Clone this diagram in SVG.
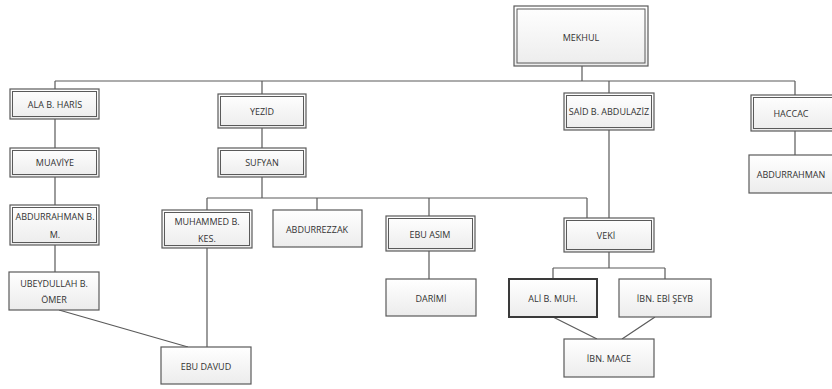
<svg xmlns="http://www.w3.org/2000/svg" width="832" height="389" viewBox="0 0 832 389">
<defs>
<linearGradient id="g" x1="0" y1="0" x2="0" y2="1">
<stop offset="0" stop-color="#ffffff"/>
<stop offset="1" stop-color="#ececec"/>
</linearGradient>
<style>
.b{fill:url(#g);stroke:#5a5a5a;stroke-width:1.2}
.i{fill:none;stroke:#5a5a5a;stroke-width:1}
.k{fill:url(#g);stroke:#3a3a3a;stroke-width:2}
.t{font-family:"Open Sans","Liberation Sans",sans-serif;font-size:9px;fill:#333;text-anchor:middle;dominant-baseline:central}
.c{stroke:#5a5a5a;stroke-width:1.2;fill:none}
</style>
</defs>
<rect width="832" height="389" fill="#fff"/>
<g id="connectors">
<path class="c" d="M582,66V81M55,81H795M55,81V89M262,81V94M609,81V93M795,81V95"/>
<path class="c" d="M55,119V148M55,177V205M55,245V272"/>
<path class="c" d="M262,128V148M262,177V198M207,198H587M207,198V210M317,198V210M429,198V216M587,198V218"/>
<path class="c" d="M609,130V218M795,131V155M429,251V279"/>
<path class="c" d="M609,252V268M553,268H665M553,268V279M665,268V279"/>
<path class="c" d="M553,317L597,339M655,317L622,339"/>
<path class="c" d="M59,310L188,347M207,248V347"/>
</g>
<g id="mekhul"><rect class="b" x="514" y="6" width="134" height="60"/><rect class="i" x="517" y="9" width="128" height="54"/><text class="t" x="581" y="37">MEKHUL</text></g>
<g id="ala"><rect class="b" x="10" y="89" width="89" height="30"/><rect class="i" x="12.5" y="91.5" width="84" height="25"/><text class="t" x="55" y="104">ALA B. HARİS</text></g>
<g id="yezid"><rect class="b" x="218" y="94" width="88" height="34"/><rect class="i" x="220.5" y="96.5" width="83" height="29"/><text class="t" x="262" y="111">YEZİD</text></g>
<g id="said"><rect class="b" x="564" y="93" width="90" height="37"/><rect class="i" x="566.5" y="95.5" width="85" height="32"/><text class="t" x="609" y="111">SAİD B. ABDULAZİZ</text></g>
<g id="haccac"><rect class="b" x="751" y="95" width="90" height="36"/><rect class="i" x="753.5" y="97.5" width="85" height="31"/><text class="t" x="791" y="113">HACCAC</text></g>
<g id="muaviye"><rect class="b" x="10" y="148" width="89" height="29"/><rect class="i" x="12.5" y="150.5" width="84" height="24"/><text class="t" x="55" y="162">MUAVİYE</text></g>
<g id="sufyan"><rect class="b" x="218" y="148" width="88" height="29"/><rect class="i" x="220.5" y="150.5" width="83" height="24"/><text class="t" x="262" y="162">SUFYAN</text></g>
<g id="abdurrahman"><rect class="b" x="749" y="155" width="92" height="38"/><text class="t" x="791" y="174">ABDURRAHMAN</text></g>
<g id="abdurrahman-bm"><rect class="b" x="10" y="205" width="89" height="40"/><rect class="i" x="12.5" y="207.5" width="84" height="35"/><text class="t" x="55" y="216">ABDURRAHMAN B.</text><text class="t" x="55" y="234">M.</text></g>
<g id="muhammed"><rect class="b" x="162" y="210" width="90" height="38"/><rect class="i" x="164.5" y="212.5" width="85" height="33"/><text class="t" x="207" y="221">MUHAMMED B.</text><text class="t" x="207" y="238">KES.</text></g>
<g id="abdurrezzak"><rect class="b" x="273" y="210" width="89" height="37"/><text class="t" x="317" y="229">ABDURREZZAK</text></g>
<g id="ebu-asim"><rect class="b" x="386" y="216" width="89" height="35"/><rect class="i" x="388.5" y="218.5" width="84" height="30"/><text class="t" x="430" y="234">EBU ASIM</text></g>
<g id="veki"><rect class="b" x="564" y="218" width="90" height="34"/><rect class="i" x="566.5" y="220.5" width="85" height="29"/><text class="t" x="606" y="235">VEKİ</text></g>
<g id="ubeydullah"><rect class="b" x="9" y="272" width="90" height="38"/><text class="t" x="54" y="283">UBEYDULLAH B.</text><text class="t" x="54" y="299">ÖMER</text></g>
<g id="darimi"><rect class="b" x="386" y="279" width="90" height="37"/><text class="t" x="431" y="298">DARİMİ</text></g>
<g id="ali"><rect class="k" x="509" y="279" width="88" height="38"/><text class="t" x="553" y="298">ALİ B. MUH.</text></g>
<g id="ibn-ebi-seyb"><rect class="b" x="619" y="279" width="92" height="38"/><text class="t" x="665" y="298">İBN. EBİ ŞEYB</text></g>
<g id="ebu-davud"><rect class="b" x="161" y="347" width="90" height="37"/><text class="t" x="206" y="366">EBU DAVUD</text></g>
<g id="ibn-mace"><rect class="b" x="564" y="339" width="90" height="38"/><text class="t" x="609" y="358">İBN. MACE</text></g>
</svg>
